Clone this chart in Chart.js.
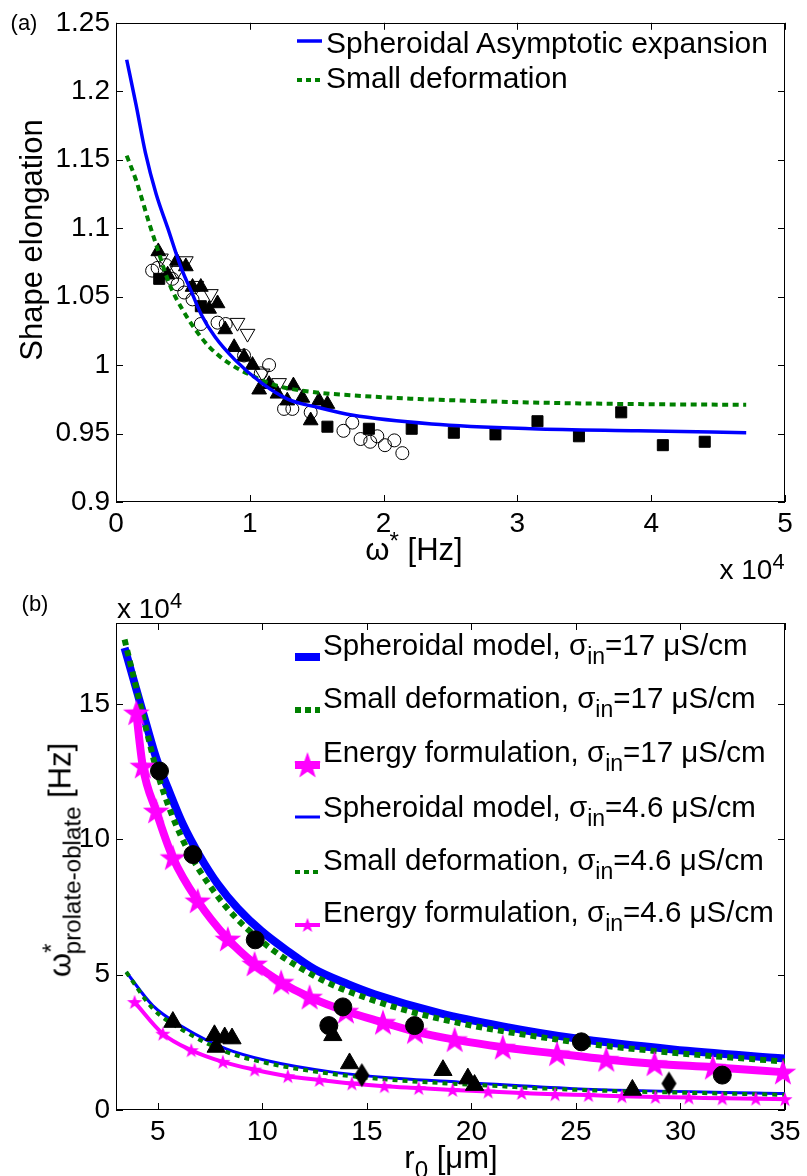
<!DOCTYPE html>
<html><head><meta charset="utf-8">
<script src="https://cdn.jsdelivr.net/npm/chart.js@4/dist/chart.umd.min.js"></script>
<style>
html,body{margin:0;padding:0;background:#fff;}
#wrap{position:relative;width:807px;height:1176px;overflow:hidden;font-family:'Liberation Sans',Arial,Helvetica,sans-serif;color:#000;background:#fff;}
canvas{position:absolute;left:0;}
.t{position:absolute;white-space:nowrap;line-height:1;}
.c{transform:translate(-50%,-50%);}
.l{transform:translateY(-50%);}
.r90{transform:translate(-50%,-50%) rotate(-90deg);}
.sub{font-size:0.78em;position:relative;top:0.4em;}
.sup{font-size:0.78em;position:relative;top:-0.45em;}
</style></head><body>
<div id="wrap">
<canvas id="c1" width="807" height="590" style="top:0"></canvas>
<canvas id="c2" width="807" height="586" style="top:590px"></canvas>

<div class="t c" style="left:24px;top:23px;font-size:22px">(a)</div>
<div class="t r90" style="left:31px;top:240px;font-size:31px">Shape elongation</div>
<div class="t c" style="left:414px;top:549px;font-size:31px">ω<span class="sup">*</span> [Hz]</div>
<div class="t c" style="left:752px;top:570px;font-size:28px">x 10<span class="sup">4</span></div>
<div class="t l" style="left:326px;top:43px;font-size:30px">Spheroidal Asymptotic expansion</div>
<div class="t l" style="left:326px;top:78px;font-size:30px">Small deformation</div>

<div class="t c" style="left:35px;top:604px;font-size:22px">(b)</div>
<div class="t l" style="left:117px;top:609px;font-size:28px">x 10<span class="sup">4</span></div>
<div class="t r90" style="left:60px;top:860px;font-size:31px">ω<span class="sup" style="margin-right:-0.45em">*</span><span class="sub">prolate-oblate</span> [Hz]</div>
<div class="t c" style="left:451px;top:1157px;font-size:31px">r<span class="sub">0</span> [μm]</div>
<div class="t l" style="left:323px;top:645px;font-size:29.5px">Spheroidal model, σ<span class="sub">in</span>=17 μS/cm</div>
<div class="t l" style="left:323px;top:698px;font-size:29.5px">Small deformation, σ<span class="sub">in</span>=17 μS/cm</div>
<div class="t l" style="left:323px;top:752px;font-size:29.5px">Energy formulation, σ<span class="sub">in</span>=17 μS/cm</div>
<div class="t l" style="left:323px;top:807px;font-size:29.5px">Spheroidal model, σ<span class="sub">in</span>=4.6 μS/cm</div>
<div class="t l" style="left:323px;top:860px;font-size:29.5px">Small deformation, σ<span class="sub">in</span>=4.6 μS/cm</div>
<div class="t l" style="left:323px;top:912px;font-size:29.5px">Energy formulation, σ<span class="sub">in</span>=4.6 μS/cm</div>
</div>
<script>
// ---------------- Panel (a) data ----------------
const topXTicks = [0, 10000, 20000, 30000, 40000, 50000];
const topXLabels = ['0', '1', '2', '3', '4', '5'];
const topYTicks = [0.9, 0.95, 1, 1.05, 1.1, 1.15, 1.2, 1.25];
const topYLabels = ['0.9', '0.95', '1', '1.05', '1.1', '1.15', '1.2', '1.25'];

const sphAsymFreq = [800, 1500, 2200, 3000, 3870, 4870, 5620, 6370, 7370, 8870, 10870, 12870, 15120, 17620, 23600, 31100, 39000, 47100];
const sphAsymElong = [1.223, 1.19, 1.155, 1.125, 1.100, 1.071, 1.054, 1.037, 1.021, 1.004, 0.987, 0.975, 0.969, 0.9635, 0.957, 0.9535, 0.952, 0.9506];

const smallDefFreq = [800, 1500, 2500, 3000, 4000, 5000, 6000, 7000, 8500, 10000, 12000, 15000, 17500, 22000, 31000, 39000, 47100];
const smallDefElong = [1.153, 1.135, 1.103, 1.088, 1.059, 1.040, 1.025, 1.013, 1.001, 0.993, 0.985, 0.980, 0.978, 0.9755, 0.9727, 0.9715, 0.971];

const sqFreq = [3230, 6340, 15800, 18900, 22100, 25250, 28360, 31500, 34600, 37760, 40870, 44000];
const sqElong = [1.063, 1.043, 0.955, 0.9535, 0.9535, 0.9506, 0.9494, 0.959, 0.948, 0.9655, 0.9415, 0.944];

const triFreq = [3160, 3860, 4550, 5220, 5720, 6340, 6960, 7590, 8160, 8830, 9570, 10200, 10700, 11440, 12070, 12800, 13260, 13930, 14550, 15170, 15800];
const triElong = [1.083, 1.066, 1.076, 1.072, 1.057, 1.057, 1.041, 1.045, 1.026, 1.013, 1.006, 1.000, 0.982, 0.986, 0.979, 0.974, 0.985, 0.976, 0.9595, 0.974, 0.9715];

const circFreq = [2700, 3110, 3730, 4200, 4600, 5100, 5720, 6340, 7590, 8200, 9570, 10820, 11440, 12560, 13180, 14550, 17000, 17660, 18280, 19000, 19530, 20100, 20800, 21400];
const circElong = [1.069, 1.071, 1.073, 1.063, 1.059, 1.053, 1.048, 1.030, 1.031, 1.030, 1.007, 0.994, 1.000, 0.968, 0.968, 0.9655, 0.952, 0.958, 0.946, 0.944, 0.948, 0.9415, 0.945, 0.9357];

const dtriFreq = [3360, 4600, 5220, 6000, 7090, 9080, 9830, 10950, 12190];
const dtriElong = [1.078, 1.069, 1.076, 1.058, 1.052, 1.031, 1.023, 0.994, 0.987];

// ---------------- Panel (b) data ----------------
const botXTicks = [5, 10, 15, 20, 25, 30, 35];
const botXLabels = ['5', '10', '15', '20', '25', '30', '35'];
const botYTicks = [0, 50000, 100000, 150000];
const botYLabels = ['0', '5', '10', '15'];

const sph17R = [3.41, 4.45, 4.92, 5.48, 6.2, 7.0, 7.87, 8.83, 9.95, 11.22, 12.5, 14.1, 15.37, 18.48, 21.5, 24.86, 29.64, 35];
const sph17W = [170800, 142500, 130200, 119000, 105600, 94000, 83500, 74500, 66200, 58700, 52000, 46500, 42800, 35800, 30900, 26600, 22400, 19000];

const sd17R = [3.41, 4.0, 4.5, 5.0, 6.12, 7.71, 9.63, 12.5, 15.05, 18.48, 24.86, 29.6, 35];
const sd17W = [173900, 155000, 139000, 124000, 101000, 80500, 64500, 49500, 41200, 33700, 25200, 21200, 17900];

const en17R = [3.97, 4.28, 4.92, 5.72, 6.91, 8.35, 9.63, 10.9, 12.26, 14.0, 15.77, 17.3, 19.2, 21.5, 24.1, 26.45, 28.76, 31.55, 34.9];
const en17W = [146800, 127100, 110500, 93300, 77300, 63200, 54000, 47200, 41700, 36500, 32400, 29000, 26000, 23200, 20800, 18700, 17100, 15800, 14000];

const sph46R = [3.49, 4.76, 6.2, 8.27, 10.19, 13.37, 16.56, 19.43, 24.86, 35];
const sph46W = [51000, 38600, 30700, 22600, 18300, 14000, 11600, 10300, 7900, 6100];

const sd46R = [3.49, 4.76, 6.2, 8.27, 10.19, 13.37, 16.56, 19.43, 24.86, 35];
const sd46W = [51000, 37500, 29500, 21500, 17400, 13300, 10900, 9600, 7500, 5600];

const en46R = [3.89, 5.24, 6.6, 8.11, 9.63, 11.22, 12.73, 14.28, 15.84, 17.48, 19.1, 20.8, 22.4, 24.0, 25.6, 27.2, 28.8, 30.4, 32.0, 33.6, 35];
const en46W = [39900, 28200, 22100, 17800, 14900, 12500, 11100, 9800, 8800, 8100, 7400, 6800, 6300, 5800, 5500, 5100, 4800, 4600, 4300, 4200, 4000];

const circ17R = [5.08, 6.68, 9.66, 13.18, 13.85, 17.28, 25.26, 32.0];
const circ17W = [125300, 94400, 62900, 31200, 38100, 31200, 25200, 12900];

const tri46R = [5.72, 7.71, 7.79, 8.2, 8.55, 13.37, 14.17, 18.64, 19.83, 20.15, 27.7];
const tri46W = [32500, 27600, 23300, 26800, 26400, 27600, 17200, 14700, 11600, 9200, 7400];

const dia46R = [14.76, 29.45];
const dia46W = [12900, 9800];

// ---------------- helpers ----------------
const BLUE = '#0000ff', GREEN = '#008000', MAG = '#ff00ff';
const FONT = "'Liberation Sans', Arial, Helvetica, sans-serif";
const pts = (xs, ys) => xs.map((x, i) => ({x: x, y: ys[i]}));

function starImg(R, color) {
  const s = Math.ceil(2 * R + 2);
  const c = document.createElement('canvas'); c.width = c.height = s;
  const g = c.getContext('2d'); g.translate(s / 2, s / 2 + R * 0.08);
  g.beginPath();
  for (let i = 0; i < 10; i++) {
    const r = i % 2 ? R * 0.4 : R;
    const a = -Math.PI / 2 + i * Math.PI / 5;
    g.lineTo(r * Math.cos(a), r * Math.sin(a));
  }
  g.closePath(); g.fillStyle = color; g.fill();
  return c;
}
function diamondImg(w, h) {
  const c = document.createElement('canvas'); c.width = w + 2; c.height = h + 2;
  const g = c.getContext('2d');
  g.beginPath(); g.moveTo(c.width / 2, 1); g.lineTo(c.width - 1, c.height / 2);
  g.lineTo(c.width / 2, c.height - 1); g.lineTo(1, c.height / 2); g.closePath();
  g.fillStyle = '#000'; g.fill();
  return c;
}
const bigStar = starImg(14, MAG);
const smallStar = starImg(8, MAG);
const diamond = diamondImg(15, 24);

const framePlugin = {
  id: 'frame',
  beforeDatasetsDraw(chart, args, o) {
    const {ctx, chartArea: a} = chart;
    const x = chart.scales.x, y = chart.scales.y;
    ctx.save();
    ctx.strokeStyle = '#000'; ctx.lineWidth = 1;
    ctx.strokeRect(Math.round(a.left) + 0.5, Math.round(a.top) + 0.5, Math.round(a.right - a.left) - 1, Math.round(a.bottom - a.top) - 1);
    const L = 7;
    ctx.beginPath();
    o.xt.forEach(v => {
      const p = Math.round(x.getPixelForValue(v)) + 0.5;
      ctx.moveTo(p, a.bottom); ctx.lineTo(p, a.bottom - L);
      ctx.moveTo(p, a.top); ctx.lineTo(p, a.top + L);
    });
    o.yt.forEach(v => {
      const p = Math.round(y.getPixelForValue(v)) + 0.5;
      ctx.moveTo(a.left, p); ctx.lineTo(a.left + L, p);
      ctx.moveTo(a.right, p); ctx.lineTo(a.right - L, p);
    });
    ctx.stroke();
    ctx.restore();
  },
  afterDraw(chart, args, o) {
    const ctx = chart.ctx;
    ctx.save();
    (o.legend || []).forEach(it => {
      ctx.beginPath();
      ctx.strokeStyle = it.color; ctx.lineWidth = it.w;
      ctx.setLineDash(it.dash || []);
      ctx.moveTo(it.x0, it.y); ctx.lineTo(it.x1, it.y); ctx.stroke();
      ctx.setLineDash([]);
      if (it.img) ctx.drawImage(it.img, (it.x0 + it.x1) / 2 - it.img.width / 2, it.y - it.img.height / 2);
    });
    ctx.restore();
  }
};

function scaleOpts(min, max, ticks, labels, isX, fitSize) {
  return {
    type: 'linear', min: min, max: max,
    grid: {display: false, drawTicks: false},
    border: {display: false},
    afterBuildTicks: (ax) => { ax.ticks = ticks.map(v => ({value: v})); },
    afterFit: (ax) => { if (isX) ax.height = fitSize; else ax.width = fitSize; },
    ticks: {
      autoSkip: false, maxRotation: 0, padding: isX ? 5 : 6,
      color: '#000', font: {family: FONT, size: 28},
      callback: (v, i) => labels[i]
    }
  };
}

const common = {
  responsive: false, animation: false, devicePixelRatio: 1, events: [],
  plugins: {legend: {display: false}, tooltip: {enabled: false}}
};

// ---------------- Chart (a) ----------------
new Chart(document.getElementById('c1'), {
  type: 'scatter',
  data: {datasets: [
    {data: pts(sphAsymFreq, sphAsymElong), showLine: true, borderColor: BLUE, borderWidth: 3.5, pointRadius: 0, cubicInterpolationMode: 'monotone', order: 0},
    {data: pts(smallDefFreq, smallDefElong), showLine: true, borderColor: GREEN, borderWidth: 4, borderDash: [6, 4.5], pointRadius: 0, cubicInterpolationMode: 'monotone', order: 0},
    {data: pts(circFreq, circElong), pointStyle: 'circle', pointRadius: 6.5, backgroundColor: 'rgba(0,0,0,0)', borderColor: '#000', pointBorderWidth: 1, order: 2},
    {data: pts(dtriFreq, dtriElong), pointStyle: 'triangle', rotation: 180, pointRadius: 8.5, backgroundColor: 'rgba(0,0,0,0)', borderColor: '#000', pointBorderWidth: 1, order: 2},
    {data: pts(triFreq, triElong), pointStyle: 'triangle', pointRadius: 8.5, backgroundColor: '#000', borderColor: '#000', pointBorderWidth: 1, order: 1},
    {data: pts(sqFreq, sqElong), pointStyle: 'rect', pointRadius: 7.8, backgroundColor: '#000', borderColor: '#000', pointBorderWidth: 1, order: 1}
  ]},
  options: Object.assign({}, common, {
    layout: {padding: {top: 18, right: 22, left: 0, bottom: 0}},
    scales: {
      x: scaleOpts(0, 50000, topXTicks, topXLabels, true, 88),
      y: scaleOpts(0.9, 1.25, topYTicks, topYLabels, false, 116)
    },
    plugins: Object.assign({}, common.plugins, {
      frame: {xt: topXTicks, yt: topYTicks, legend: [
        {x0: 297, x1: 322, y: 41, color: BLUE, w: 3.5},
        {x0: 297, x1: 322, y: 80, color: GREEN, w: 4, dash: [5, 4]}
      ]}
    })
  }),
  plugins: [framePlugin]
});

// ---------------- Chart (b) ----------------
const off = 590;
new Chart(document.getElementById('c2'), {
  type: 'scatter',
  data: {datasets: [
    {data: pts(circ17R, circ17W), pointStyle: 'circle', pointRadius: 9, backgroundColor: '#000', borderColor: '#000', order: 0},
    {data: pts(tri46R, tri46W), pointStyle: 'triangle', pointRadius: 10.5, backgroundColor: '#000', borderColor: '#000', order: 0},
    {data: pts(dia46R, dia46W), pointStyle: diamond, pointRadius: 8, order: 0},
    {data: pts(en17R, en17W), showLine: true, borderColor: MAG, borderWidth: 8, pointStyle: bigStar, pointRadius: 10, cubicInterpolationMode: 'monotone', clip: false, order: 1},
    {data: pts(en46R, en46W), showLine: true, borderColor: MAG, borderWidth: 4, pointStyle: smallStar, pointRadius: 6, cubicInterpolationMode: 'monotone', clip: false, order: 1},
    {data: pts(sd17R, sd17W), showLine: true, borderColor: GREEN, borderWidth: 6, borderDash: [6, 5], pointRadius: 0, cubicInterpolationMode: 'monotone', order: 2},
    {data: pts(sd46R, sd46W), showLine: true, borderColor: GREEN, borderWidth: 4, borderDash: [5, 5], pointRadius: 0, cubicInterpolationMode: 'monotone', order: 2},
    {data: pts(sph17R, sph17W), showLine: true, borderColor: BLUE, borderWidth: 8, pointRadius: 0, cubicInterpolationMode: 'monotone', order: 3},
    {data: pts(sph46R, sph46W), showLine: true, borderColor: BLUE, borderWidth: 3, pointRadius: 0, cubicInterpolationMode: 'monotone', order: 3}
  ]},
  options: Object.assign({}, common, {
    layout: {padding: {top: 33, right: 22, left: 0, bottom: 0}},
    scales: {
      x: scaleOpts(3, 35, botXTicks, botXLabels, true, 66),
      y: scaleOpts(0, 180000, botYTicks, botYLabels, false, 116)
    },
    plugins: Object.assign({}, common.plugins, {
      frame: {xt: botXTicks, yt: botYTicks, legend: [
        {x0: 295, x1: 320, y: 657 - off, color: BLUE, w: 8},
        {x0: 295, x1: 320, y: 710 - off, color: GREEN, w: 6, dash: [6, 4]},
        {x0: 295, x1: 320, y: 765 - off, color: MAG, w: 8, img: bigStar},
        {x0: 295, x1: 320, y: 817 - off, color: BLUE, w: 3},
        {x0: 295, x1: 320, y: 872 - off, color: GREEN, w: 4, dash: [5, 4]},
        {x0: 295, x1: 320, y: 925 - off, color: MAG, w: 4, img: smallStar}
      ]}
    })
  }),
  plugins: [framePlugin]
});
</script>
</body></html>
